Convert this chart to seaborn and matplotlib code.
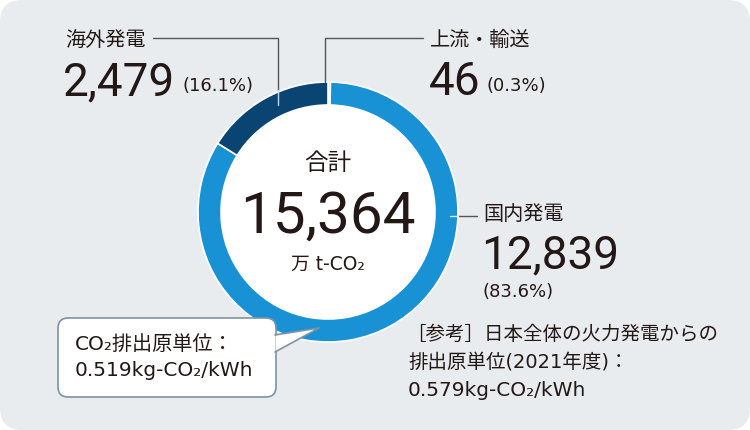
import matplotlib
matplotlib.use('Agg')
import matplotlib.pyplot as plt
from matplotlib.patches import FancyBboxPatch, Polygon
import seaborn as sns

# ---- data ----
categories = ['上流・輸送', '国内発電', '海外発電']
values = [46, 12839, 2479]
shares = ['(0.3%)', '(83.6%)', '(16.1%)']
total_label = '15,364'
unit_label = '万 t-CO₂'
seg_colors = ['#a9bccb', '#1991d5', '#0a4473']

sns.set_theme(style='white')
CJK = ['Noto Sans CJK JP', 'DejaVu Sans']
LAT = ['DejaVu Sans', 'Noto Sans CJK JP']   # latin-heavy lines
NUM = ['Roboto', 'DejaVu Sans']
plt.rcParams['font.family'] = CJK

TXT = '#231815'
LINE = '#555555'
H = 430

def Y(y):
    return H - y

fig = plt.figure(figsize=(7.5, 4.3), dpi=100, facecolor='white')
ax = fig.add_axes([0, 0, 1, 1])
ax.set_xlim(0, 750)
ax.set_ylim(0, H)
ax.axis('off')

# background panel
ax.add_patch(FancyBboxPatch((0, 0), 750, H, boxstyle='round,pad=0,rounding_size=22',
                            facecolor='#e9ecef', edgecolor='none', zorder=0))

# donut
cx, cy, R = 328, 212, 130
ax.add_patch(plt.Circle((cx, Y(cy)), R - 22, color='white', zorder=1))
ax.pie(values, colors=seg_colors, startangle=90, counterclock=False,
       radius=R, center=(cx, Y(cy)),
       wedgeprops=dict(width=23, edgecolor='white', linewidth=1.2, zorder=2))
ax.set_xlim(0, 750)
ax.set_ylim(0, H)
ax.set_aspect('auto')

# leader lines
ax.plot([153, 278, 278], [Y(38), Y(38), Y(90)], color=LINE, lw=1, zorder=3)
ax.plot([278, 278], [Y(90), Y(105)], color='#c8d4de', lw=1, zorder=3)
ax.plot([423, 325, 325], [Y(38), Y(38), Y(82)], color=LINE, lw=1, zorder=3)
ax.plot([458, 477], [Y(216), Y(216)], color=LINE, lw=1, zorder=3)
ax.plot([450, 458], [Y(216), Y(216)], color='#d6ecf8', lw=1, zorder=3)

# 海外発電
ax.text(65, Y(40), categories[2], fontsize=14.5, color=TXT, va='center', ha='left')
ax.text(63, Y(95), f'{values[2]:,}', fontsize=33, family=NUM, color=TXT,
        va='baseline', ha='left')
ax.text(182, Y(91), shares[2], fontsize=13, family=LAT, color=TXT, va='baseline', ha='left')

# 上流・輸送
ax.text(430, Y(40), categories[0], fontsize=14.5, color=TXT, va='center', ha='left')
ax.text(429, Y(95), f'{values[0]:,}', fontsize=33, family=NUM, color=TXT,
        va='baseline', ha='left')
ax.text(487, Y(91), shares[0], fontsize=13, family=LAT, color=TXT, va='baseline', ha='left')

# 国内発電
ax.text(483, Y(215), categories[1], fontsize=14.5, color=TXT, va='center', ha='left')
ax.text(481, Y(268), f'{values[1]:,}', fontsize=33, family=NUM, color=TXT,
        va='baseline', ha='left')
ax.text(483, Y(297), shares[1], fontsize=13, family=LAT, color=TXT, va='baseline', ha='left')

# centre total
ax.text(cx, Y(164), '合計', fontsize=17, color=TXT, va='center', ha='center', zorder=4)
ax.text(cx, Y(233), total_label, fontsize=42, family=NUM, color=TXT,
        va='baseline', ha='center', zorder=4)
ax.text(cx, Y(264), unit_label, fontsize=13.5, family=LAT, color=TXT,
        va='center', ha='center', zorder=4)

# callout box
BOX = '#7d93a5'
ax.add_patch(FancyBboxPatch((58, Y(397)), 218, 79, boxstyle='round,pad=0,rounding_size=10',
                            facecolor='white', edgecolor=BOX, lw=1.2, zorder=5))
ax.add_patch(Polygon([(275.5, Y(335)), (319, Y(328)), (275.5, Y(352))], closed=True,
                     facecolor='white', edgecolor='none', zorder=6))
ax.plot([275, 319, 275], [Y(335), Y(328), Y(352)], color=BOX, lw=1.2, zorder=6)
ax.text(75, Y(345), 'CO₂排出原単位：', fontsize=14.5, family=LAT, color=TXT,
        va='center', ha='left', zorder=7)
ax.text(75, Y(371), '0.519kg-CO₂/kWh', fontsize=14.5, family=LAT, color=TXT,
        va='center', ha='left', zorder=7)

# reference note
ax.text(406, Y(334), '［参考］日本全体の火力発電からの', fontsize=14, color=TXT,
        va='center', ha='left')
ax.text(408, Y(362), '排出原単位(2021年度)：', fontsize=14, family=LAT, color=TXT,
        va='center', ha='left')
ax.text(408, Y(390), '0.579kg-CO₂/kWh', fontsize=14.5, family=LAT, color=TXT,
        va='center', ha='left')

fig.savefig('out.png', dpi=100, facecolor='white')
